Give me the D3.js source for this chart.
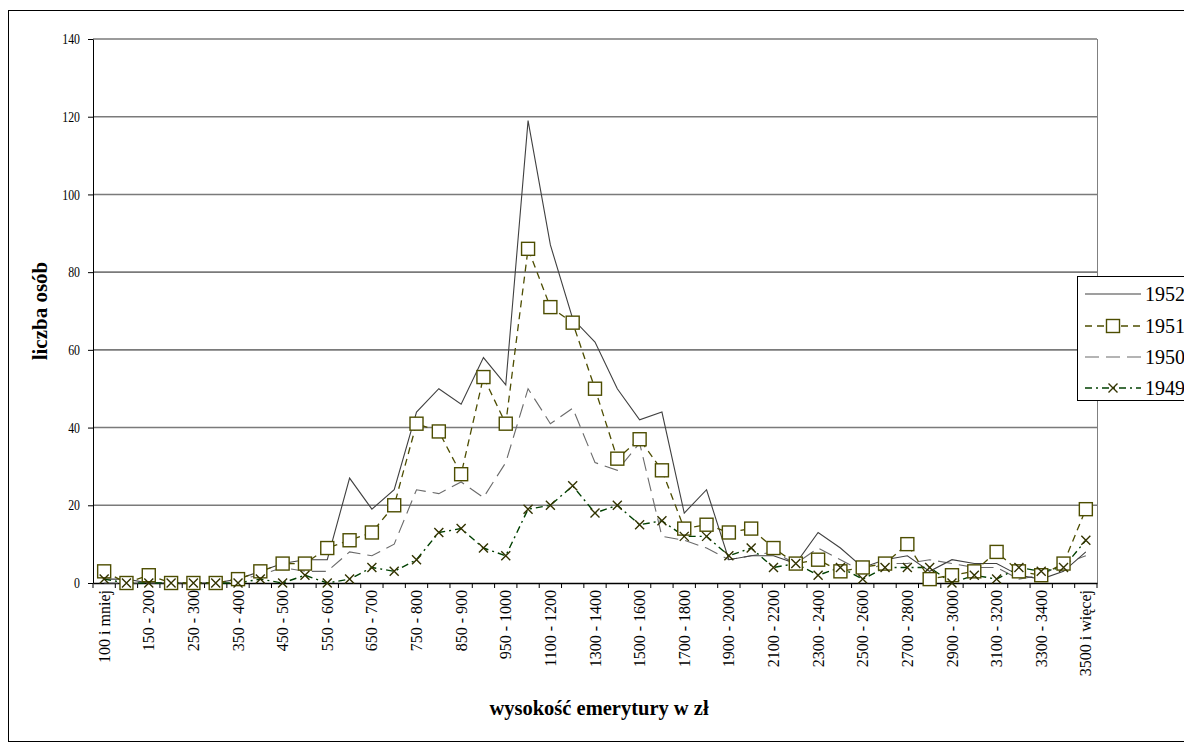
<!DOCTYPE html>
<html><head><meta charset="utf-8">
<script src="https://cdn.jsdelivr.net/npm/d3@7"></script>
<style>body{margin:0;background:#fff}svg{display:block}</style>
</head><body>
<script>
const categories = ["100 i mniej","100 - 150","150 - 200","200 - 250","250 - 300","300 - 350","350 - 400","400 - 450","450 - 500","500 - 550","550 - 600","600 - 650","650 - 700","700 - 750","750 - 800","800 - 850","850 - 900","900 - 950","950 - 1000","1000 - 1100","1100 - 1200","1200 - 1300","1300 - 1400","1400 - 1500","1500 - 1600","1600 - 1700","1700 - 1800","1800 - 1900","1900 - 2000","2000 - 2100","2100 - 2200","2200 - 2300","2300 - 2400","2400 - 2500","2500 - 2600","2600 - 2700","2700 - 2800","2800 - 2900","2900 - 3000","3000 - 3100","3100 - 3200","3200 - 3300","3300 - 3400","3400 - 3500","3500 i więcej"];
const v1952 = [1,1,0,0,0,0,1,3,5,6,6,27,19,24,44,50,46,58,51,119,87,68,62,50,42,44,18,24,6,7,7,5,13,9,4,6,7,3,6,5,5,2,1,3,8];
const v1951 = [3,0,2,0,0,0,1,3,5,5,9,11,13,20,41,39,28,53,41,86,71,67,50,32,37,29,14,15,13,14,9,5,6,3,4,5,10,1,2,3,8,3,2,5,19];
const v1950 = [0,0,0,0,0,0,1,2,4,3,3,8,7,10,24,23,26,22,31,50,41,45,31,29,36,12,11,9,6,7,8,5,9,6,3,5,5,6,5,4,4,1,2,5,7];
const v1949 = [1,0,0,0,0,0,0,1,0,2,0,1,4,3,6,13,14,9,7,19,20,25,18,20,15,16,12,12,7,9,4,5,2,4,1,4,4,4,0,2,1,4,3,4,11];
const yTicks = [0,20,40,60,80,100,120,140];
const seriesNames = ["1952","1951","1950","1949"];

const W = 1184, H = 752;
const svg = d3.select("body").append("svg").attr("width", W).attr("height", H);
const font = "'Liberation Serif','Times New Roman',serif";

// outer chart border
svg.append("rect").attr("x", 8.5).attr("y", 10.5).attr("width", 1200).attr("height", 731)
  .attr("fill", "none").attr("stroke", "#000").attr("stroke-width", 1);

const pLeft = 93, pRight = 1097, pTop = 39, pBottom = 583;
const x = d3.scaleBand().domain(categories).range([pLeft, pRight]).padding(0);
const y = d3.scaleLinear().domain([0, 140]).range([pBottom, pTop]);
const cx = d => x(d) + x.bandwidth() / 2;

// gridlines
svg.append("g").selectAll("line").data(yTicks.filter(t => t > 0)).join("line")
  .attr("x1", pLeft).attr("x2", pRight).attr("y1", d => y(d)).attr("y2", d => y(d))
  .attr("stroke", "#7a7a7a").attr("stroke-width", 1.6);
// right plot border
svg.append("line").attr("x1", pRight + 0.5).attr("x2", pRight + 0.5).attr("y1", pTop).attr("y2", pBottom)
  .attr("stroke", "#808080").attr("stroke-width", 1);

// y axis
const yAxis = svg.append("g").attr("transform", `translate(${pLeft},0)`)
  .call(d3.axisLeft(y).tickValues(yTicks).tickSize(5).tickPadding(8).tickSizeOuter(0));
yAxis.select(".domain").attr("stroke", "#000");
yAxis.selectAll(".tick line").attr("stroke", "#000");
yAxis.selectAll("text").attr("font-family", font).attr("font-size", 14.5).attr("fill", "#000")
  .attr("textLength", d => String(d).length * 5.9).attr("lengthAdjust", "spacingAndGlyphs");

// x axis
const xAxis = svg.append("g").attr("transform", `translate(0,${pBottom})`)
  .call(d3.axisBottom(x).tickSize(0).tickFormat((d, i) => i % 2 === 0 ? d : ""));
xAxis.select(".domain").attr("stroke", "#000").attr("stroke-width", 1.3);
xAxis.selectAll("text").attr("font-family", font).attr("font-size", 16).attr("fill", "#000")
  .attr("transform", "rotate(-90)").attr("text-anchor", "end")
  .attr("x", -7).attr("y", 0).attr("dy", "0.35em");
// ticks between categories
svg.append("g").selectAll("line").data(d3.range(categories.length + 1)).join("line")
  .attr("x1", i => pLeft + i * x.bandwidth()).attr("x2", i => pLeft + i * x.bandwidth())
  .attr("y1", pBottom).attr("y2", pBottom + 5).attr("stroke", "#000");

const line = d3.line().x((d, i) => cx(categories[i])).y(d => y(d));

// series
const styles = {
  "1952": {data: v1952, stroke: "#404040", width: 1.1, dash: null},
  "1951": {data: v1951, stroke: "#4d4d00", width: 1.3, dash: "7,5"},
  "1950": {data: v1950, stroke: "#6a6a6a", width: 1.1, dash: "14,7"},
  "1949": {data: v1949, stroke: "#004000", width: 1.4, dash: "7,4,2,4"}
};
["1950","1952","1949","1951"].forEach(k => {
  const s = styles[k];
  svg.append("path").datum(s.data).attr("d", line).attr("fill", "none")
    .attr("stroke", s.stroke).attr("stroke-width", s.width)
    .attr("stroke-dasharray", s.dash);
});

function drawSquare(g, px, py) {
  g.append("rect").attr("x", px - 6.5).attr("y", py - 6.5).attr("width", 13).attr("height", 13)
    .attr("fill", "#fff").attr("stroke", "#4d4d00").attr("stroke-width", 1.4);
}
function drawX(g, px, py) {
  const r = 4.5;
  g.append("path").attr("d", `M${px-r},${py-r}L${px+r},${py+r}M${px-r},${py+r}L${px+r},${py-r}`)
    .attr("stroke", "#333300").attr("stroke-width", 1.4).attr("fill", "none");
}
const gSq = svg.append("g");
v1951.forEach((v, i) => drawSquare(gSq, cx(categories[i]), y(v)));
const gX = svg.append("g");
v1949.forEach((v, i) => drawX(gX, cx(categories[i]), y(v)));

// axis titles
svg.append("text").attr("transform", `translate(47,${(pTop + pBottom) / 2}) rotate(-90)`)
  .attr("text-anchor", "middle").attr("font-family", font).attr("font-weight", "bold")
  .attr("font-size", 21).text("liczba osób");
svg.append("text").attr("x", 599).attr("y", 715)
  .attr("text-anchor", "middle").attr("font-family", font).attr("font-weight", "bold")
  .attr("font-size", 20.5).text("wysokość emerytury w zł");

// legend
const lg = svg.append("g");
lg.append("rect").attr("x", 1077.5).attr("y", 276.5).attr("width", 140).attr("height", 124)
  .attr("fill", "#fff").attr("stroke", "#000").attr("stroke-width", 1);
const rowsY = [294, 326, 357, 388];
seriesNames.forEach((k, i) => {
  const s = styles[k], yy = rowsY[i];
  lg.append("line").attr("x1", 1085).attr("x2", 1141).attr("y1", yy).attr("y2", yy)
    .attr("stroke", s.stroke).attr("stroke-width", s.width).attr("stroke-dasharray", s.dash);
  if (k === "1951") drawSquare(lg, 1113, yy);
  if (k === "1949") drawX(lg, 1113, yy);
  lg.append("text").attr("x", 1145).attr("y", yy).attr("dy", "0.35em")
    .attr("font-family", font).attr("font-size", 20).text(k);
});
</script>
</body></html>
